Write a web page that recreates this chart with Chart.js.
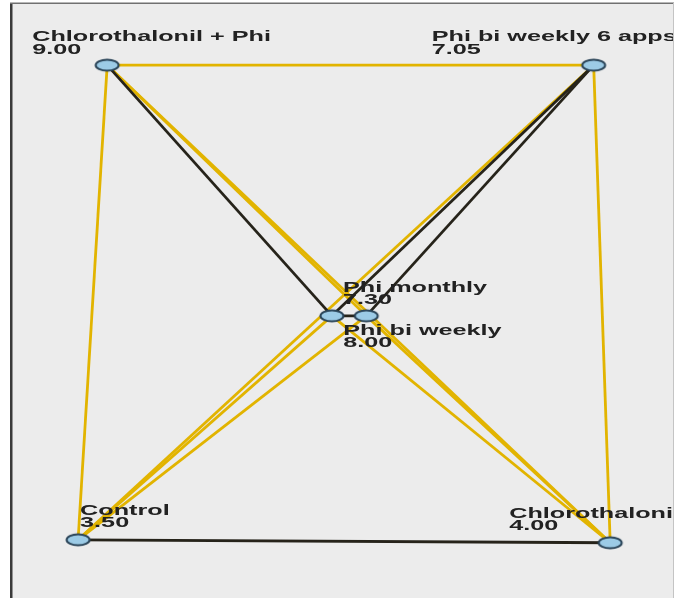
<!DOCTYPE html>
<html>
<head>
<meta charset="utf-8">
<script src="https://cdn.jsdelivr.net/npm/chart.js@4"></script>
<style>
  html, body { margin: 0; padding: 0; background: #fff; }
  #wrap { width: 676px; height: 598px; position: relative; }
</style>
</head>
<body>
<div id="wrap"><canvas id="pairs"></canvas></div>
<script>
// groups and their mean ranks
const groups = ['Chlorothalonil + Phi', 'Phi bi weekly 6 apps', 'Phi monthly', 'Phi bi weekly', 'Control', 'Chlorothalonil'];
const meanRanks = [9.00, 7.05, 7.30, 8.00, 3.50, 4.00];

// node layout on a 0-100 grid
const nodeX = [14.4, 88.0, 48.4, 53.6, 10.0, 90.5];
const nodeY = [89.7, 89.7, 47.5, 47.5, 9.8, 9.3];

// pairwise comparisons (index into groups), 1 = significant
const pairFrom = [0, 0, 0, 0, 0, 1, 1, 1, 1, 2, 2, 2, 3, 3, 4];
const pairTo   = [1, 2, 3, 4, 5, 2, 3, 4, 5, 3, 4, 5, 4, 5, 5];
const pairSig  = [0, 1, 0, 0, 0, 1, 1, 0, 0, 1, 0, 0, 0, 0, 1];

const YELLOW = '#e2b400';
const DARK = '#26231a';

// label placement around each node, in pixels
const labelShift = [
  { dx: -75, dy: -24 },
  { dx: -162, dy: -24 },
  { dx: 11, dy: -24 },
  { dx: -23, dy: 19 },
  { dx: 2, dy: -25 },
  { dx: -101, dy: -25 }
];

// ellipse used as the node marker
function nodeMarker() {
  const c = document.createElement('canvas');
  c.width = 28; c.height = 16;
  const g = c.getContext('2d');
  g.beginPath();
  g.ellipse(14, 8, 11.5, 5.5, 0, 0, Math.PI * 2);
  g.fillStyle = '#9ccbe6';
  g.fill();
  g.lineWidth = 2;
  g.strokeStyle = '#2a4458';
  g.stroke();
  return c;
}

const edgeSets = pairFrom.map((a, i) => {
  const b = pairTo[i];
  const sig = pairSig[i] === 1;
  return {
    data: [{ x: nodeX[a], y: nodeY[a] }, { x: nodeX[b], y: nodeY[b] }],
    showLine: true,
    borderColor: sig ? DARK : YELLOW,
    borderWidth: 2.8,
    pointRadius: 0,
    pointHoverRadius: 0,
    order: sig ? 1 : 2
  };
});

const nodeSet = {
  data: groups.map((g, i) => ({ x: nodeX[i], y: nodeY[i] })),
  pointStyle: nodeMarker(),
  pointRadius: 12,
  showLine: false,
  order: 0
};

const panel = {
  id: 'panel',
  beforeDraw(chart) {
    const ctx = chart.ctx;
    ctx.save();
    ctx.fillStyle = '#ffffff';
    ctx.fillRect(0, 0, chart.width, chart.height);
    ctx.fillStyle = '#ececec';
    ctx.fillRect(12, 4, 661, 594);
    ctx.restore();
  },
  afterDraw(chart) {
    const ctx = chart.ctx;
    ctx.save();
    ctx.fillStyle = '#3a3a3a';
    ctx.fillRect(10, 3, 2.5, 595);
    ctx.fillStyle = '#707070';
    ctx.fillRect(10, 2.5, 664, 1.5);
    ctx.fillStyle = '#c4c4c4';
    ctx.fillRect(673, 3, 1, 595);
    ctx.restore();
  }
};

const nodeLabels = {
  id: 'nodeLabels',
  afterDatasetsDraw(chart) {
    const ctx = chart.ctx;
    const xs = chart.scales.x, ys = chart.scales.y;
    ctx.save();
    ctx.beginPath();
    ctx.rect(12, 4, 661, 594);
    ctx.clip();
    ctx.fillStyle = '#222222';
    ctx.font = 'bold 15px "Liberation Sans", Arial, sans-serif';
    ctx.textBaseline = 'alphabetic';
    groups.forEach((name, i) => {
      const px = xs.getPixelForValue(nodeX[i]);
      const py = ys.getPixelForValue(nodeY[i]);
      const s = labelShift[i];
      ctx.save();
      ctx.translate(px + s.dx, py + s.dy);
      ctx.scale(1.68, 1);
      ctx.fillText(name, 0, 0);
      ctx.fillText(meanRanks[i].toFixed(2), 0, 12.5);
      ctx.restore();
    });
    ctx.restore();
  }
};

new Chart(document.getElementById('pairs'), {
  type: 'scatter',
  data: { datasets: [...edgeSets, nodeSet] },
  options: {
    responsive: true,
    maintainAspectRatio: false,
    animation: false,
    layout: { autoPadding: false, padding: { left: 12, top: 4, right: 3, bottom: 0 } },
    scales: {
      x: { display: false, min: 0, max: 100 },
      y: { display: false, min: 0, max: 100 }
    },
    plugins: {
      legend: { display: false },
      tooltip: { enabled: false }
    }
  },
  plugins: [panel, nodeLabels]
});
</script>
</body>
</html>
